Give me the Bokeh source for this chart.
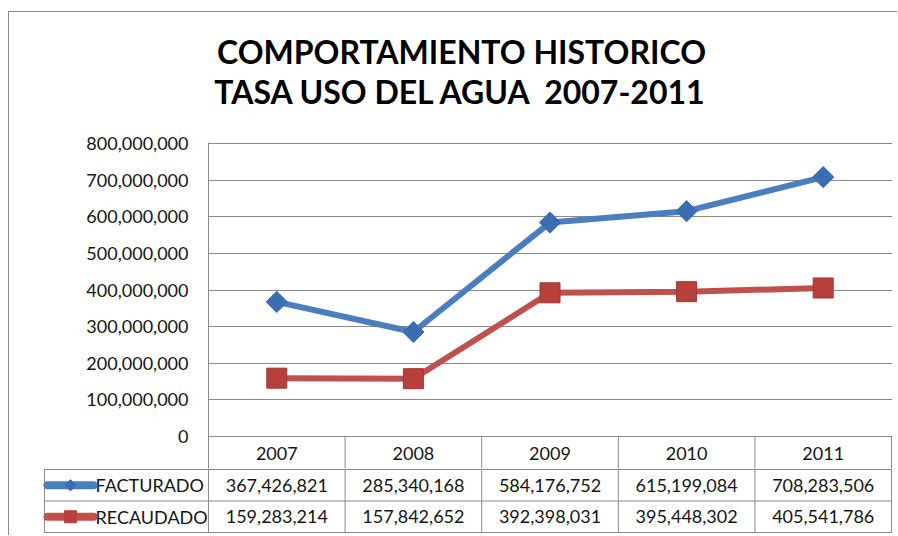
import math
from bokeh.plotting import figure
from bokeh.models import Range1d, FixedTicker, NumeralTickFormatter, ColumnDataSource
from bokeh.layouts import column
from bokeh.embed import file_html
from bokeh.resources import INLINE
from bokeh.core.properties import value

# ---------------- data ----------------
years = ["2007", "2008", "2009", "2010", "2011"]
facturado = [367426821, 285340168, 584176752, 615199084, 708283506]
recaudado = [159283214, 157842652, 392398031, 395448302, 405541786]
series_names = ["FACTURADO", "RECAUDADO"]
y_ticks = [0, 100000000, 200000000, 300000000, 400000000,
           500000000, 600000000, 700000000, 800000000]
title_lines = ["COMPORTAMIENTO HISTORICO", "TASA USO DEL AGUA \u00a02007-2011"]

# ---------------- style / layout (pixels) ----------------
FONT = "Lato"
FS = "18px"
TXT = "#151515"
GRID = "#8a8a8a"
BLUE = "#4a7ebf"
BLUE_D = "#3b6db3"
RED = "#c0504d"
RED_D = "#b8403c"
OX, OY = 9, 12              # content origin (inside outer border line)
CW = 898 - OX               # content width
FRAME_L, FRAME_R = 208, 891  # plot area (absolute px)
Y_TOP, Y_ZERO = 143, 436     # pixel rows of 800M and 0
UNIT = (FRAME_R - FRAME_L) / len(years)
PPV = (Y_ZERO - Y_TOP) / y_ticks[-1]   # pixels per value

xs = list(range(len(years)))


def blank(fig):
    fig.outline_line_color = None
    fig.background_fill_color = "white"
    fig.border_fill_color = "white"
    fig.frame_align = False


# ---------------- title ----------------
T_H = 122 - OY
p0 = figure(width=CW, height=T_H, output_backend="svg", toolbar_location=None,
            x_axis_location=None, y_axis_location=None,
            x_range=Range1d(0, CW), y_range=Range1d(T_H, 0),
            min_border=0)
blank(p0)
p0.grid.visible = False
p0.text(x=[461 - OX] * 2, y=[51 - OY, 91 - OY], text=title_lines,
        text_align="center", text_baseline="middle", text_font=value(FONT),
        text_font_style="bold", text_font_size="32px", text_color="#000000")

# ---------------- chart + header row ----------------
P1_TOP, P1_BOT = 122, 468
p1 = figure(width=CW, height=P1_BOT - P1_TOP, output_backend="svg",
            toolbar_location=None, x_axis_location=None,
            x_range=Range1d(-0.5, len(years) - 0.5 + 1 / UNIT),
            y_range=Range1d((Y_ZERO - P1_BOT) / PPV, (Y_ZERO - (Y_TOP - 1)) / PPV),
            min_border_left=FRAME_L - OX, min_border_right=898 - (FRAME_R + 1),
            min_border_top=(Y_TOP - 1) - P1_TOP, min_border_bottom=0)
blank(p1)
p1.xgrid.visible = False

ax = p1.yaxis[0]
ax.ticker = FixedTicker(ticks=y_ticks)
ax.formatter = NumeralTickFormatter(format="0,0")
ax.major_label_text_font = FONT
ax.major_label_text_font_size = FS
ax.major_label_text_color = TXT
ax.major_tick_line_color = None
ax.minor_tick_line_color = None
ax.major_tick_out = 0
ax.major_label_standoff = 20
ax.axis_line_color = GRID
ax.axis_line_width = 1

p1.ygrid.grid_line_color = GRID
p1.ygrid.grid_line_width = 1

src = ColumnDataSource(dict(x=xs, f=facturado, r=recaudado))
p1.line("x", "f", source=src, line_color=BLUE, line_width=6)
p1.scatter("x", "f", source=src, marker="square", angle=math.pi / 4, size=15,
           fill_color=BLUE_D, line_color=BLUE_D)
p1.line("x", "r", source=src, line_color=RED, line_width=6)
p1.scatter("x", "r", source=src, marker="square", size=20,
           fill_color=RED_D, line_color="#a8332f")

# header row (below the 0 line)
hdr_bottom = p1.y_range.start
sep_x = [i + 0.5 for i in range(len(years))]
p1.segment(x0=sep_x, y0=[0] * len(sep_x), x1=sep_x, y1=[hdr_bottom] * len(sep_x),
           line_color=GRID, line_width=1)
p1.text(x=xs, y=[(Y_ZERO - 453) / PPV] * len(years), text=years,
        text_align="center", text_baseline="middle", text_font=value(FONT),
        text_font_size=FS, text_color=TXT)

# ---------------- data rows with legend keys ----------------
P2_TOP = P1_BOT
T_L, T_R = 42, 893
ROW_PX = 31.5
p2_h = 536 - P2_TOP
fr_bot = 533
x0 = -0.5 - (FRAME_L - T_L) / UNIT
x1 = len(years) - 0.5 + (T_R - FRAME_R) / UNIT
y_top_val = 1 - (469 - P2_TOP) / ROW_PX
y_bot_val = 1 + (fr_bot - 469) / ROW_PX
leg_left = -0.5 - (FRAME_L - 44) / UNIT
icon_a = leg_left + 3 / UNIT
icon_b = leg_left + 49 / UNIT
icon_c = (icon_a + icon_b) / 2
text_x = leg_left + 51 / UNIT

p2 = figure(width=CW, height=p2_h, output_backend="svg", toolbar_location=None,
            x_axis_location=None, y_axis_location=None,
            x_range=Range1d(x0, x1), y_range=Range1d(y_bot_val, y_top_val),
            min_border_left=T_L - OX, min_border_right=898 - T_R,
            min_border_top=0, min_border_bottom=536 - fr_bot)
blank(p2)
p2.grid.visible = False

nrows = 1 + len(series_names)
hy = list(range(1, nrows + 1))
p2.segment(x0=[leg_left] * len(hy), y0=hy, x1=[len(years) - 0.5] * len(hy), y1=hy,
           line_color=GRID, line_width=1)
vx = [leg_left] + [i - 0.5 for i in range(len(years) + 1)]
vy0 = [1] + [y_top_val] * (len(years) + 1)
p2.segment(x0=vx, y0=vy0, x1=vx, y1=[nrows] * len(vx), line_color=GRID, line_width=1)

for k, vals in enumerate([facturado, recaudado]):
    p2.text(x=xs, y=[1.5 + k] * len(vals), text=[f"{v:,}" for v in vals],
            text_align="center", text_baseline="middle", text_font=value(FONT),
            text_font_size=FS, text_color=TXT)
    p2.text(x=[text_x], y=[1.5 + k], text=[series_names[k]], text_align="left",
            text_baseline="middle", text_font=value(FONT), text_font_size=FS,
            text_color=TXT)

p2.segment(x0=[icon_a], y0=[1.5], x1=[icon_b], y1=[1.5], line_color=BLUE,
           line_width=8, line_cap="round")
p2.scatter(x=[icon_c], y=[1.5], marker="square", angle=math.pi / 4, size=8,
           fill_color=BLUE_D, line_color=BLUE_D)
p2.segment(x0=[icon_a], y0=[2.5], x1=[icon_b], y1=[2.5], line_color=RED,
           line_width=8, line_cap="round")
p2.scatter(x=[icon_c], y=[2.5], marker="square", size=12,
           fill_color=RED_D, line_color=RED_D)

layout = column(p0, p1, p2, spacing=0,
                styles={"margin-left": f"{OX}px", "margin-top": f"{OY}px",
                        "box-shadow": f"-1px -1px 0 0 {GRID}"})
open("out.html", "w").write(file_html(layout, INLINE))
